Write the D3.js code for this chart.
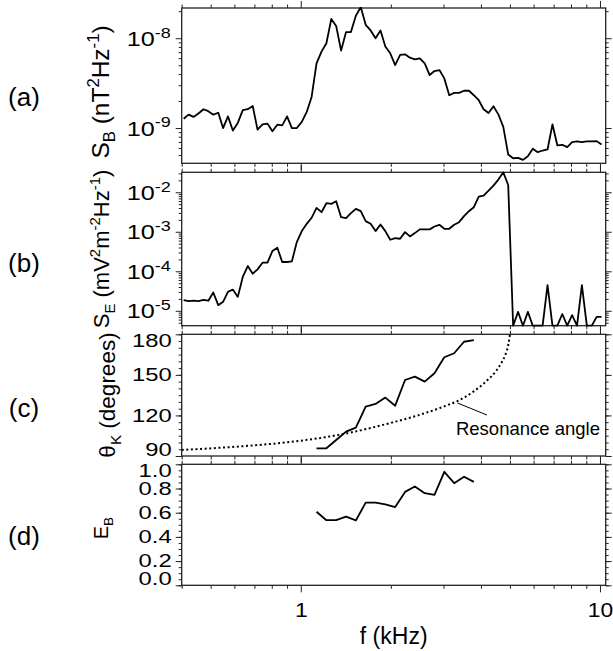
<!DOCTYPE html>
<html>
<head>
<meta charset="utf-8">
<script src="https://cdn.jsdelivr.net/npm/d3@7"></script>
<style>
  body { margin: 0; background: #fff; }
  text { font-family: "Liberation Sans", Arial, sans-serif; fill: #000; }
</style>
</head>
<body>
<svg id="chart" width="613" height="651"></svg>
<script>
/** Data **/
// frequency grid (kHz) shared by panels (a) and (b)
var freq = [0.406, 0.422, 0.438, 0.455, 0.473, 0.491, 0.510, 0.530, 0.550, 0.571,
            0.593, 0.616, 0.640, 0.665, 0.691, 0.717, 0.745, 0.774, 0.804, 0.835,
            0.867, 0.900, 0.934, 0.970, 1.008, 1.047, 1.087, 1.129, 1.173, 1.218,
            1.265, 1.313, 1.364, 1.417, 1.471, 1.528, 1.587, 1.648, 1.712, 1.778,
            1.847, 1.917, 1.991, 2.068, 2.148, 2.231, 2.317, 2.406, 2.499, 2.596,
            2.696, 2.798, 2.906, 3.018, 3.135, 3.256, 3.381, 3.512, 3.647, 3.788,
            3.934, 4.084, 4.242, 4.405, 4.575, 4.752, 4.935, 5.126, 5.323, 5.529,
            5.742, 5.962, 6.192, 6.431, 6.679, 6.937, 7.204, 7.482, 7.771, 8.070,
            8.381, 8.701, 9.037, 9.386, 9.748, 10.12];

// (a) magnetic spectral density, nT^2/Hz
var sbPower = [1.27e-9, 1.41e-9, 1.33e-9, 1.45e-9, 1.62e-9, 1.54e-9, 1.41e-9, 1.48e-9, 1.00e-9, 1.35e-9,
               0.94e-9, 1.14e-9, 1.58e-9, 1.62e-9, 1.76e-9, 0.96e-9, 1.10e-9, 1.12e-9, 0.92e-9, 1.09e-9,
               1.07e-9, 1.35e-9, 1.00e-9, 1.00e-9, 1.17e-9, 1.51e-9, 2.22e-9, 5.25e-9, 7.09e-9, 8.79e-9,
               1.64e-8, 1.37e-8, 7.28e-9, 1.17e-8, 1.17e-8, 1.78e-8, 2.22e-8, 1.41e-8, 1.22e-8, 1.00e-8,
               1.22e-8, 8.07e-9, 6.79e-9, 5.03e-9, 6.51e-9, 6.62e-9, 6.08e-9, 5.82e-9, 5.97e-9, 5.25e-9,
               3.89e-9, 4.31e-9, 4.42e-9, 3.57e-9, 2.32e-9, 2.46e-9, 2.46e-9, 2.60e-9, 2.60e-9, 2.32e-9,
               2.04e-9, 1.62e-9, 1.47e-9, 1.75e-9, 1.42e-9, 1.03e-9, 5.07e-10, 4.61e-10, 4.66e-10, 4.42e-10,
               4.86e-10, 5.87e-10, 5.39e-10, 5.62e-10, 5.77e-10, 1.10e-9, 6.40e-10, 6.51e-10, 6.13e-10, 6.97e-10,
               7.09e-10, 6.97e-10, 7.09e-10, 7.09e-10, 7.15e-10, 6.56e-10];

// (b) electric spectral density, mV^2 m^-2 /Hz (0 = below the plot floor)
var sePower = [1.86e-5, 1.75e-5, 1.80e-5, 1.75e-5, 1.90e-5, 1.80e-5, 2.90e-5, 1.39e-5, 1.69e-5, 3.01e-5,
               3.45e-5, 2.25e-5, 7.2e-5, 1.36e-4, 8.7e-5, 1.12e-4, 1.65e-4, 1.65e-4, 3.26e-4, 3.95e-4,
               1.72e-4, 1.72e-4, 1.79e-4, 5.5e-4, 1.04e-3, 1.59e-3, 2.26e-3, 4.03e-3, 3.13e-3, 5.28e-3,
               5.08e-3, 5.93e-3, 2.34e-3, 2.21e-3, 2.96e-3, 3.80e-3, 3.32e-3, 1.86e-3, 1.59e-3, 1.04e-3,
               1.53e-3, 1.04e-3, 6.28e-4, 6.92e-4, 6.66e-4, 9.82e-4, 7.62e-4, 9.25e-4, 1.15e-3, 1.15e-3,
               1.15e-3, 1.36e-3, 1.50e-3, 1.19e-3, 1.19e-3, 1.50e-3, 1.75e-3, 2.48e-3, 3.32e-3, 4.19e-3,
               7.78e-3, 8.24e-3, 1.10e-2, 1.47e-2, 2.09e-2, 3.19e-2, 1.53e-2, 0, 9.4e-6, 0,
               9.4e-6, 0, 0, 0, 4.45e-5, 0, 0, 8.3e-6, 0, 7.8e-6,
               0, 4.45e-5, 0, 0, 7.0e-6, 7.0e-6];

// (c), (d) wave normal angle and ellipticity, every other frequency bin
var waveFreq = [1.129, 1.218, 1.313, 1.417, 1.528, 1.648, 1.778, 1.917, 2.068, 2.231,
                2.406, 2.596, 2.798, 3.018, 3.256, 3.512, 3.788];
var thetaK = [95.7, 95.7, 101.8, 108, 111, 126.5, 128.5, 133.2, 127.2, 146.2,
              148.7, 145, 151.2, 163, 166, 174.5, 175.7];
var ellipB = [0.608, 0.538, 0.538, 0.567, 0.536, 0.683, 0.683, 0.669, 0.647, 0.772,
              0.817, 0.761, 0.747, 0.938, 0.844, 0.897, 0.855];

// resonance angle (dotted)
var resFreq = [0.4, 0.6, 0.8, 1.0, 1.2, 1.5, 2.0, 2.5, 3.0, 3.4, 3.8, 4.2, 4.5, 4.7, 4.85, 4.95, 5.0];
var resAngle = [94.5, 96.8, 99, 101.3, 103.8, 107.8, 114.5, 120.5, 126.5, 131.5, 138, 146, 153, 159.5, 166, 173.5, 180];

// tick labels
var xMajor = [1, 10];
var xMinor = [0.4, 0.5, 0.6, 0.7, 0.8, 0.9, 2, 3, 4, 5, 6, 7, 8, 9];
var thetaTicks = [90, 120, 150, 180];
var ellipTicks = [0, 0.2, 0.4, 0.6, 0.8, 1.0];


var svg = d3.select("#chart");
var plotLeft = 181.7, plotRight = 605.7;

var x = d3.scaleLog().domain([0.4, 10.45]).range([plotLeft, plotRight]);

var panels = [
	{ name: "(a)", top: 8, bottom: 163.3, labelY: 106 },
	{ name: "(b)", top: 172.3, bottom: 325.7, labelY: 272 },
	{ name: "(c)", top: 334.3, bottom: 456, labelY: 417 },
	{ name: "(d)", top: 464.3, bottom: 585.3, labelY: 545 }
];

panels[0].y = d3.scaleLog().domain([4.05e-10, 2.17e-8]).range([panels[0].bottom, panels[0].top]);
panels[1].y = d3.scaleLog().domain([4.2e-6, 3.2e-2]).range([panels[1].bottom, panels[1].top]);
panels[2].y = d3.scaleLinear().domain([90, 180]).range([panels[2].bottom, panels[2].top]);
panels[3].y = d3.scaleLinear().domain([0, 1]).range([panels[3].bottom, panels[3].top]);

// text with sub/superscripts: parts = [[string, "n"|"sub"|"sup"], ...]
function richText(sel, parts, size)
{
	var shift = 0;
	parts.forEach(function(p)
	{
		var target = p[1] == "sup" ? -0.42 * size : (p[1] == "sub" ? 0.25 * size : 0);
		sel.append("tspan")
			.attr("dy", target - shift)
			.attr("font-size", p[1] == "n" ? size : size * 0.68)
			.text(p[0]);
		shift = target;
	});
}

function logMinors(domain)
{
	var out = [];
	var lo = Math.floor(Math.log10(domain[0]));
	var hi = Math.ceil(Math.log10(domain[1]));
	for (var e = lo; e <= hi; e++)
	{
		for (var k = 2; k <= 9; k++)
		{
			var v = k * Math.pow(10, e);
			if (v >= domain[0] && v <= domain[1]) out.push(v);
		}
	}
	return out;
}

function styleAxis(g)
{
	g.select(".domain").remove();
	g.selectAll("line").attr("stroke", "#222").attr("stroke-width", 1);
	g.attr("font-family", null).attr("font-size", null);
}

function drawFrameAndX(p, showLabels)
{
	// x ticks, top and bottom, pointing out of the box
	svg.append("g").attr("transform", "translate(0," + p.bottom + ")")
		.call(d3.axisBottom(x).tickValues(xMinor).tickSize(3.5).tickFormat(""))
		.call(styleAxis);
	svg.append("g").attr("transform", "translate(0," + p.top + ")")
		.call(d3.axisTop(x).tickValues(xMinor).tickSize(3.5).tickFormat(""))
		.call(styleAxis);
	svg.append("g").attr("transform", "translate(0," + p.top + ")")
		.call(d3.axisTop(x).tickValues(xMajor).tickSize(7).tickFormat(""))
		.call(styleAxis);
	var bx = svg.append("g").attr("transform", "translate(0," + p.bottom + ")")
		.call(d3.axisBottom(x).tickValues(xMajor).tickSize(7).tickPadding(11)
			.tickFormat(showLabels ? d3.format("d") : ""))
		.call(styleAxis);
	bx.selectAll("text").attr("font-size", 20).attr("fill", "#000")
		.attr("transform", "scale(1.14,1)");

	svg.append("rect")
		.attr("x", plotLeft).attr("y", p.top)
		.attr("width", plotRight - plotLeft).attr("height", p.bottom - p.top)
		.attr("fill", "none").attr("stroke", "#222").attr("stroke-width", 1.3);

	svg.append("text")
		.attr("x", 24).attr("y", p.labelY)
		.attr("text-anchor", "middle").attr("font-size", 26)
		.text(p.name);
}

function drawLogY(p)
{
	var dom = p.y.domain();
	var majors = [];
	for (var e = Math.ceil(Math.log10(dom[0])); e <= Math.floor(Math.log10(dom[1])); e++)
		majors.push(Math.pow(10, e));
	var minors = logMinors(dom);

	[d3.axisLeft, d3.axisRight].forEach(function(mk, side)
	{
		var xpos = side == 0 ? plotLeft : plotRight;
		svg.append("g").attr("transform", "translate(" + xpos + ",0)")
			.call(mk(p.y).tickValues(minors).tickSize(3).tickFormat(""))
			.call(styleAxis);
		svg.append("g").attr("transform", "translate(" + xpos + ",0)")
			.call(mk(p.y).tickValues(majors).tickSize(6).tickFormat(""))
			.call(styleAxis);
	});

	var labels = svg.append("g").selectAll("text").data(majors).enter()
		.append("text")
		.attr("transform", function(d) { return "translate(" + (plotLeft - 11) + "," + p.y(d) + ") scale(1.2,1)"; })
		.attr("dy", "0.36em")
		.attr("text-anchor", "end")
		.attr("font-size", 21);
	labels.append("tspan").text("10");
	labels.append("tspan")
		.attr("dy", "-0.55em")
		.attr("font-size", 15)
		.text(function(d) { return "-" + Math.round(-Math.log10(d)); });
}

function drawLinY(p, ticks, minorStep, fmt)
{
	var dom = p.y.domain();
	var minors = d3.range(dom[0], dom[1] + minorStep / 2, minorStep);

	[d3.axisLeft, d3.axisRight].forEach(function(mk, side)
	{
		var xpos = side == 0 ? plotLeft : plotRight;
		svg.append("g").attr("transform", "translate(" + xpos + ",0)")
			.call(mk(p.y).tickValues(minors).tickSize(3).tickFormat(""))
			.call(styleAxis);
		svg.append("g").attr("transform", "translate(" + xpos + ",0)")
			.call(mk(p.y).tickValues(ticks).tickSize(6).tickFormat(""))
			.call(styleAxis);
	});

	svg.append("g").selectAll("text").data(ticks).enter()
		.append("text")
		.attr("transform", function(d) { return "translate(" + (plotLeft - 10) + "," + p.y(d) + ") scale(1.36,1)"; })
		.attr("dy", function(d, i)
		{
			// end labels are pushed inside the frame
			if (i == 0) return "0.0em";
			if (i == ticks.length - 1) return "0.72em";
			return "0.36em";
		})
		.attr("text-anchor", "end")
		.attr("font-size", 17.5)
		.text(fmt);
}

function yTitle(xBase, yMid, parts, size)
{
	var t = svg.append("text")
		.attr("transform", "translate(" + xBase + "," + yMid + ") rotate(-90)")
		.attr("text-anchor", "middle");
	richText(t, parts, size);
}

function clipFor(p, id)
{
	svg.append("clipPath").attr("id", id)
		.append("rect")
		.attr("x", plotLeft).attr("y", p.top - 1)
		.attr("width", plotRight - plotLeft).attr("height", p.bottom - p.top + 2);
	return "url(#" + id + ")";
}

panels.forEach(function(p, i) { drawFrameAndX(p, i == 3); });

drawLogY(panels[0]);
drawLogY(panels[1]);
drawLinY(panels[2], thetaTicks, 5, d3.format("d"));
drawLinY(panels[3], ellipTicks, 0.05, d3.format(".1f"));

yTitle(109, 92, [["S", "n"], ["B", "sub"], [" (nT", "n"], ["2", "sup"], ["Hz", "n"], ["-1", "sup"], [")", "n"]], 24.5);
yTitle(109, 249, [["S", "n"], ["E", "sub"], [" (mV", "n"], ["2", "sup"], ["m", "n"], ["-2", "sup"], ["Hz", "n"], ["-1", "sup"], [")", "n"]], 22);
yTitle(115, 395, [["θ", "n"], ["K", "sub"], [" (degrees)", "n"]], 22.5);
yTitle(108, 528, [["E", "n"], ["B", "sub"]], 20);

svg.append("text")
	.attr("x", (plotLeft + plotRight) / 2).attr("y", 643.5)
	.attr("text-anchor", "middle").attr("font-size", 23)
	.text("f (kHz)");

// curves
var lineA = d3.line()
	.x(function(d, i) { return x(freq[i]); })
	.y(function(d) { return panels[0].y(d); });
svg.append("path").datum(sbPower)
	.attr("clip-path", clipFor(panels[0], "clipA"))
	.attr("d", lineA)
	.attr("fill", "none").attr("stroke", "#000").attr("stroke-width", 1.8)
	.attr("stroke-linejoin", "round");

var floorB = panels[1].y.domain()[0];
var lineB = d3.line()
	.x(function(d, i) { return x(freq[i]); })
	.y(function(d) { return panels[1].y(Math.max(d, floorB)); });
svg.append("path").datum(sePower)
	.attr("clip-path", clipFor(panels[1], "clipB"))
	.attr("d", lineB)
	.attr("fill", "none").attr("stroke", "#000").attr("stroke-width", 1.8)
	.attr("stroke-linejoin", "round");

var lineRes = d3.line()
	.x(function(d, i) { return x(resFreq[i]); })
	.y(function(d) { return panels[2].y(d); })
	.curve(d3.curveMonotoneX);
svg.append("path").datum(resAngle)
	.attr("clip-path", clipFor(panels[2], "clipC"))
	.attr("d", lineRes)
	.attr("fill", "none").attr("stroke", "#000").attr("stroke-width", 2)
	.attr("stroke-dasharray", "2,2.6");

var lineC = d3.line()
	.x(function(d, i) { return x(waveFreq[i]); })
	.y(function(d) { return panels[2].y(d); });
svg.append("path").datum(thetaK)
	.attr("d", lineC)
	.attr("fill", "none").attr("stroke", "#000").attr("stroke-width", 1.8)
	.attr("stroke-linejoin", "round");

var lineD = d3.line()
	.x(function(d, i) { return x(waveFreq[i]); })
	.y(function(d) { return panels[3].y(d); });
svg.append("path").datum(ellipB)
	.attr("d", lineD)
	.attr("fill", "none").attr("stroke", "#000").attr("stroke-width", 1.8)
	.attr("stroke-linejoin", "round");

// annotation for the resonance curve
svg.append("line")
	.attr("x1", x(4.19)).attr("y1", panels[2].y(120.3))
	.attr("x2", x(3.34)).attr("y2", panels[2].y(129.2))
	.attr("stroke", "#000").attr("stroke-width", 1);
svg.append("text")
	.attr("x", x(10)).attr("y", panels[2].y(105.5))
	.attr("text-anchor", "end").attr("font-size", 18.5)
	.text("Resonance angle");
</script>
</body>
</html>
